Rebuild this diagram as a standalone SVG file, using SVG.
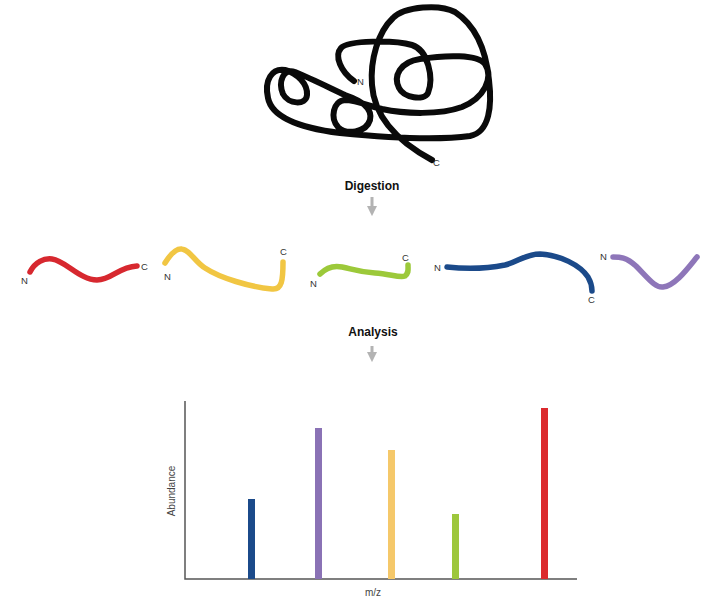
<svg xmlns="http://www.w3.org/2000/svg" width="705" height="600" viewBox="0 0 705 600">
  <style>
    .chain { fill: none; stroke-linecap: round; stroke-linejoin: round; }
    .term { font-family: "Liberation Sans", Arial, sans-serif; font-size: 9.5px; fill: #333; }
    .step { font-family: "Liberation Sans", Arial, sans-serif; font-size: 12px; font-weight: bold; fill: #111; text-anchor: middle; }
    .axislabel { font-family: "Liberation Sans", Arial, sans-serif; font-size: 10px; fill: #444; text-anchor: middle; }
    .flow { stroke: #b3b3b3; stroke-width: 3; fill: none; marker-end: url(#head); }
  </style>
  <defs>
    <marker id="head" viewBox="0 0 10 10" refX="5" refY="5" markerWidth="3.4" markerHeight="3.4" orient="auto" markerUnits="strokeWidth">
      <path d="M0,0 L10,5 L0,10 Z" fill="#b3b3b3"/>
    </marker>
  </defs>
  <rect width="705" height="600" fill="#fff"/>

  <!-- folded protein -->
  <g id="protein">
    <path class="chain" stroke="#0a0a0a" stroke-width="6" d="M354,81 C341,72 334,56 341,48 C348,40 395,40 412,45 C428,50 434,78 428,93 C424,101 404,98 399,88 C393,76 400,62 420,59 C445,55 478,54 485,64 C494,78 484,98 462,107 C440,115 405,114 382,109 C370,106 355,100 345,100 C333,101 330,118 338,127 C346,135 366,133 370,120 C373,108 360,100 345,95 C330,88 310,78 295,72 C283,68 278,82 283,94 C288,104 306,106 307,95 C308,84 297,73 285,70 C272,68 264,80 268,98 C272,118 300,128 340,133 C390,138 440,140 470,136 C490,132 492,105 489,80 C486,50 475,25 455,12 C440,4 405,6 393,18 C378,32 370,60 372,85 C374,115 395,140 432,160"/>
    <text class="term" x="357" y="85">N</text>
    <text class="term" x="433" y="166">C</text>
  </g>

  <text class="step" x="372" y="190">Digestion</text>
  <text class="step" x="373" y="336">Analysis</text>

  <!-- peptide fragments -->
  <g id="frag-red">
    <path class="chain" stroke="#d7282f" stroke-width="5.5" d="M30,272 C35,262 44,258 52,259 C66,261 80,280 97,280 C112,280 118,267 137,266"/>
    <text class="term" x="21" y="284">N</text>
    <text class="term" x="141" y="270">C</text>
  </g>
  <g id="frag-yellow">
    <path class="chain" stroke="#f1c643" stroke-width="5.5" d="M165,263 C170,255 176,248 182,249 C190,250 195,262 205,268 C220,278 250,287 272,289 C282,290 283,280 283,262"/>
    <text class="term" x="164" y="280">N</text>
    <text class="term" x="280" y="255">C</text>
  </g>
  <g id="frag-green">
    <path class="chain" stroke="#9cc93a" stroke-width="5.5" d="M320,274 C326,268 333,265 342,267 C352,269 358,272 375,273 C390,274 400,278 405,276 C409,273 408,270 408,265"/>
    <text class="term" x="310" y="287">N</text>
    <text class="term" x="402" y="261">C</text>
  </g>
  <g id="frag-blue">
    <path class="chain" stroke="#1b4a8a" stroke-width="5.5" d="M447,267 C465,269 485,269 505,265 C518,262 525,254 540,254 C560,255 580,265 588,277 C592,284 592,290 592,291"/>
    <text class="term" x="434" y="271">N</text>
    <text class="term" x="588" y="303">C</text>
  </g>
  <g id="frag-purple">
    <path class="chain" stroke="#8e76b9" stroke-width="5.5" d="M613,257 C620,257 626,257 636,266 C648,278 655,288 663,287 C675,286 688,268 697,257"/>
    <text class="term" x="600" y="260">N</text>
  </g>

  <!-- mass spectrum -->
  <g id="spectrum">
    <path d="M185,401 V579 H577" fill="none" stroke="#555" stroke-width="1.5"/>
    <rect x="248" y="499" width="7" height="80" fill="#1b4a8a"/>
    <rect x="315" y="428" width="7" height="151" fill="#8a72b5"/>
    <rect x="388" y="450" width="7" height="129" fill="#f5c86a"/>
    <rect x="452" y="514" width="7" height="65" fill="#9dc73c"/>
    <rect x="541" y="408" width="7" height="171" fill="#db2a2e"/>
    <text class="axislabel" transform="translate(175,491) rotate(-90)">Abundance</text>
    <text class="axislabel" x="373" y="596">m/z</text>
  </g>

  <g id="connectors">
    <path class="flow" d="M372,197 V211"/>
    <path class="flow" d="M372,346 V357"/>
  </g>
</svg>
